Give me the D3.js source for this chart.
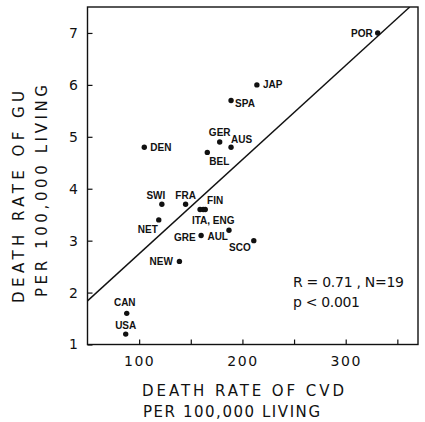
<!DOCTYPE html>
<html>
<head>
<meta charset="utf-8">
<script src="https://cdn.jsdelivr.net/npm/d3@7"></script>
<style>
  body { margin: 0; background: #fff; }
  svg { display: block; }
  .tick text { font-family: "DejaVu Sans", sans-serif; font-size: 14px; letter-spacing: 1.5px; fill: #111; }
  .tick line { stroke: #111; stroke-width: 1.2; }
  .lbl { font-family: "Liberation Sans", Arial, sans-serif; font-size: 10px; font-weight: bold; fill: #111; }
  .title { font-family: "DejaVu Sans", sans-serif; font-size: 15px; fill: #111; }
  .stat { font-family: "DejaVu Sans", sans-serif; font-size: 14px; fill: #111; }
</style>
</head>
<body>
<svg id="chart"></svg>
<script>
// countries and rates
var countries = ["POR","JAP","SPA","GER","AUS","DEN","BEL","SWI","FRA","FIN","ITA","ENG","NET","GRE","AUL","SCO","NEW","CAN","USA"];
var cvdRate = [331, 214, 189, 178, 189, 105, 166, 122, 145, 159, 162, 164, 119, 160, 187, 211, 139, 88, 87];
var guRate  = [7.0, 6.0, 5.7, 4.9, 4.8, 4.8, 4.7, 3.7, 3.7, 3.6, 3.6, 3.6, 3.4, 3.1, 3.2, 3.0, 2.6, 1.6, 1.2];

var xTicks = [100, 150, 200, 250, 300, 350];
var xTickLabels = ["100", "", "200", "", "300", ""];
var yTicks = [1, 2, 3, 4, 5, 6, 7];

// fitted line ends
var fitX = [50, 362];
var fitY = [1.84, 7.5];

// label placement: anchor, dx, dy (dy = offset of text middle)
var labelPos = {
  POR: ["end", -5, 0], JAP: ["start", 6, 0], SPA: ["start", 4, 3],
  GER: ["middle", 0, -10], AUS: ["start", 0, -7.5], DEN: ["start", 6, 0],
  BEL: ["start", 2, 8.6], SWI: ["middle", -6, -9], FRA: ["middle", 0, -9.4],
  FIN: ["start", 7, -9.3], ITA: ["middle", 10, 10.4], ENG: ["middle", 0, 0],
  NET: ["end", -1, 10], GRE: ["end", -5.5, 2], AUL: ["end", -1, 6],
  SCO: ["end", -3, 6.7], NEW: ["end", -6.5, 0], CAN: ["middle", -2, -11.3],
  USA: ["middle", 0, -8.3]
};
var labelText = { ITA: "ITA, ENG", ENG: "" };

var width = 425, height = 422;
var plotL = 87.5, plotR = 418, plotT = 7, plotB = 344.5;

var svg = d3.select("#chart").attr("width", width).attr("height", height);

var x = d3.scaleLinear().domain([50, 370]).range([plotL, plotR]);
var y = d3.scaleLinear().domain([1, 7.5]).range([plotB, plotT]);

var xAxis = d3.axisBottom(x)
  .tickValues(xTicks)
  .tickSize(-5)
  .tickPadding(12)
  .tickFormat(function(d, i) { return xTickLabels[i]; });

svg.append("g")
  .attr("transform", "translate(0," + plotB + ")")
  .call(xAxis)
  .call(function(g) { g.select(".domain").remove(); });

var yAxis = d3.axisLeft(y)
  .tickValues(yTicks)
  .tickSize(-5)
  .tickPadding(8)
  .tickFormat(d3.format("d"));

svg.append("g")
  .attr("transform", "translate(" + plotL + ",0)")
  .call(yAxis)
  .call(function(g) { g.select(".domain").remove(); });

// frame
svg.append("rect")
  .attr("x", plotL).attr("y", plotT)
  .attr("width", plotR - plotL).attr("height", plotB - plotT)
  .attr("fill", "none").attr("stroke", "#111").attr("stroke-width", 1.4);

// regression line
svg.append("clipPath").attr("id", "clip")
  .append("rect").attr("x", plotL).attr("y", plotT)
  .attr("width", plotR - plotL).attr("height", plotB - plotT);

var fit = d3.line()
  .x(function(d) { return x(d[0]); })
  .y(function(d) { return y(d[1]); });

svg.append("path")
  .datum(d3.zip(fitX, fitY))
  .attr("d", fit)
  .attr("clip-path", "url(#clip)")
  .attr("fill", "none")
  .attr("stroke", "#111")
  .attr("stroke-width", 1.4);

var pts = countries.map(function(c, i) { return { name: c, cvd: cvdRate[i], gu: guRate[i] }; });

svg.selectAll("circle.dot")
  .data(pts)
  .enter()
  .append("circle")
  .attr("class", "dot")
  .attr("cx", function(d) { return x(d.cvd); })
  .attr("cy", function(d) { return y(d.gu); })
  .attr("r", 2.7)
  .attr("fill", "#111");

svg.selectAll("text.lbl")
  .data(pts.filter(function(d) { return labelText[d.name] !== ""; }))
  .enter()
  .append("text")
  .attr("class", "lbl")
  .attr("text-anchor", function(d) { return labelPos[d.name][0]; })
  .attr("x", function(d) { return x(d.cvd) + labelPos[d.name][1]; })
  .attr("y", function(d) { return y(d.gu) + labelPos[d.name][2] + 3.6; })
  .text(function(d) { return labelText[d.name] || d.name; });

// stats
svg.append("text").attr("class", "stat")
  .attr("x", 293).attr("y", 287)
  .attr("textLength", 111)
  .text("R = 0.71 ,  N=19");
svg.append("text").attr("class", "stat")
  .attr("x", 293).attr("y", 307)
  .attr("textLength", 67)
  .text("p < 0.001");

// axis titles
svg.append("text").attr("class", "title")
  .attr("x", 142).attr("y", 396)
  .attr("textLength", 202)
  .text("DEATH RATE OF  CVD");
svg.append("text").attr("class", "title")
  .attr("x", 143).attr("y", 417)
  .attr("textLength", 177)
  .text("PER 100,000 LIVING");

svg.append("text").attr("class", "title")
  .attr("transform", "translate(24,303) rotate(-90)")
  .attr("textLength", 212)
  .text("DEATH RATE OF  GU");
svg.append("text").attr("class", "title")
  .attr("transform", "translate(47,297) rotate(-90)")
  .attr("textLength", 212)
  .text("PER 100,000 LIVING");
</script>
</body>
</html>
